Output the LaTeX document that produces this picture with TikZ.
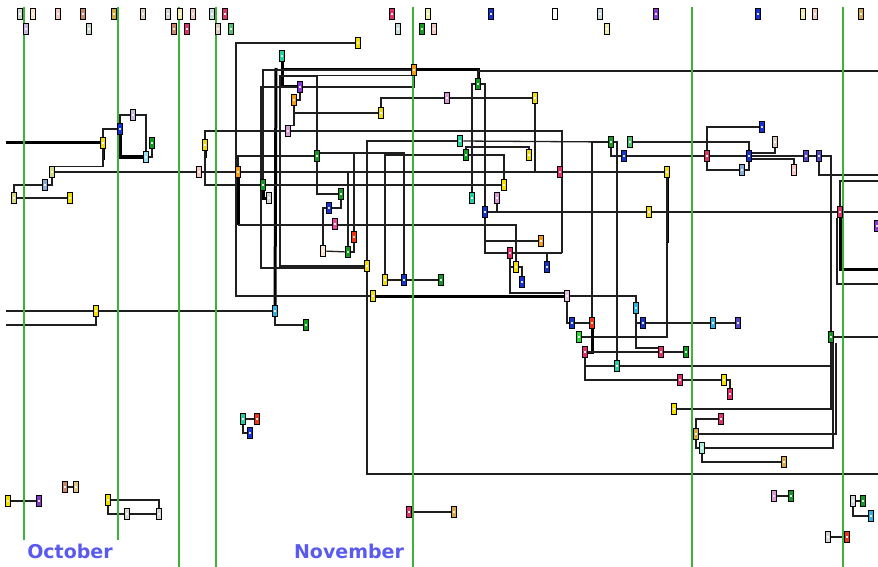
\documentclass[tikz,border=0pt]{standalone}
\usepackage{fontspec}
\newfontfamily\monthfont{DejaVu Sans}
\usetikzlibrary{positioning}
\pgfdeclarelayer{paper}
\pgfdeclarelayer{wires}
\pgfdeclarelayer{guides}
\pgfsetlayers{paper,wires,guides,main}

\definecolor{cyel}{HTML}{F2DC00}
\definecolor{cgrn}{HTML}{109A20}
\definecolor{cbgr}{HTML}{20E030}
\definecolor{cteal}{HTML}{20D0A0}
\definecolor{cblu}{HTML}{1434D0}
\definecolor{corg}{HTML}{F09A10}
\definecolor{cpur}{HTML}{8A36D0}
\definecolor{corch}{HTML}{D898D8}
\definecolor{cmag}{HTML}{F0409A}
\definecolor{cred}{HTML}{F03414}
\definecolor{ccrim}{HTML}{E0306A}
\definecolor{ccyn}{HTML}{28B4E4}
\definecolor{clcy}{HTML}{98DCF0}
\definecolor{cslt}{HTML}{5446C4}
\definecolor{cstb}{HTML}{84AAD8}
\definecolor{csal}{HTML}{F8C4C0}
\definecolor{colv}{HTML}{D4D882}
\definecolor{cltl}{HTML}{A8F0DC}
\definecolor{ctan}{HTML}{D4A848}
\definecolor{cgry}{HTML}{D4D6D4}
\definecolor{cpch}{HTML}{FCE0C8}
\definecolor{crse}{HTML}{F0C8C0}
\definecolor{cbrn}{HTML}{C88868}
\definecolor{cbge}{HTML}{DCCCBC}
\definecolor{clem}{HTML}{EEEEA8}
\definecolor{clav}{HTML}{C8B8E0}
\definecolor{cice}{HTML}{C8DCDC}
\definecolor{csge}{HTML}{C8D8CC}
\definecolor{clgr}{HTML}{50C070}
\definecolor{guidegreen}{HTML}{3CB43C}
\definecolor{monthblue}{HTML}{5A5AF0}

\tikzset{
  tsk/.style={draw=black, line width=1.1pt, minimum width=5.5pt, minimum height=10.5pt, inner sep=0pt,
    path picture={\fill[white,opacity=.85] ([shift={(-0.9pt,-1.4pt)}]path picture bounding box.center) rectangle ([shift={(0.9pt,1.4pt)}]path picture bounding box.center);}},
  wire/.style={line width=1.3pt, draw=black!88},
  fat/.style={line width=3pt, draw=black},
  guide/.style={line width=1.5pt, draw=guidegreen},
  month/.style={font=\monthfont\bfseries\fontsize{19}{19}\selectfont, text=monthblue, inner sep=0pt}
}

\begin{document}
\begin{tikzpicture}[x=1pt,y=-1pt]
\begin{pgfonlayer}{paper}
\fill[white] (0,0) rectangle (878,567);
\end{pgfonlayer}
\useasboundingbox (0,0) rectangle (878,567);

% top rows
\node[tsk, fill=cgry] (t1) at (20,14) {};
\node[tsk, fill=cpch] (t2) at (33,14) {};
\node[tsk, fill=crse] (t3) at (58,14) {};
\node[tsk, fill=cbrn] (t4) at (83,14) {};
\node[tsk, fill=ctan] (t5) at (114,14) {};
\node[tsk, fill=cbge] (t6) at (143,14) {};
\node[tsk, fill=cgry] (t7) at (168,14) {};
\node[tsk, fill=clem] (t8) at (180,14) {};
\node[tsk, fill=crse] (t9) at (193,14) {};
\node[tsk, fill=cice] (t10) at (212,14) {};
\node[tsk, fill=ccrim] (t11) at (225,14) {};
\node[tsk, fill=ccrim] (t12) at (392,14) {};
\node[tsk, fill=clem] (t13) at (428,14) {};
\node[tsk, fill=cblu] (t14) at (491,14) {};
\node[tsk, fill=white] (t15) at (555,14) {};
\node[tsk, fill=cice] (t16) at (600,14) {};
\node[tsk, fill=cpur] (t17) at (656,14) {};
\node[tsk, fill=cblu] (t18) at (758,14) {};
\node[tsk, fill=clem] (t19) at (803,14) {};
\node[tsk, fill=crse] (t20) at (815,14) {};
\node[tsk, fill=ctan] (t21) at (861,14) {};
\node[tsk, fill=clav] (s1) at (26,29) {};
\node[tsk, fill=csge] (s2) at (89,29) {};
\node[tsk, fill=cbrn] (s3) at (174,29) {};
\node[tsk, fill=ccrim] (s4) at (187,29) {};
\node[tsk, fill=cbge] (s5) at (218,29) {};
\node[tsk, fill=clgr] (s6) at (231,29) {};
\node[tsk, fill=cice] (s7) at (398,29) {};
\node[tsk, fill=cgrn] (s8) at (422,29) {};
\node[tsk, fill=crse] (s9) at (434,29) {};
\node[tsk, fill=clem] (s10) at (607,29) {};

% left
\node[tsk, fill=cyel] (yA) at (103,143) {};
\node[tsk, fill=cblu] (bA) at (120,129) {};
\node[tsk, fill=clav] (lvA) at (133,115) {};
\node[tsk, fill=cgrn] (grA) at (152,143) {};
\node[tsk, fill=clcy] (cyA) at (146,157) {};
\node[tsk, fill=colv] (olA) at (52,172) {};
\node[tsk, fill=csal] (pcA) at (199,172) {};
\node[tsk, fill=corg] (orA) at (238,172) {};
\node[tsk, fill=cstb] (lbA) at (45,185) {};
\node[tsk, fill=colv] (ogA) at (14,198) {};
\node[tsk, fill=cyel] (yB) at (70,198) {};
\node[tsk, fill=cyel] (yC) at (96,311) {};
\node[tsk, fill=ccyn] (cyB) at (275,311) {};
\node[tsk, fill=cgrn] (grB) at (306,325) {};
\node[tsk, fill=cyel] (yI) at (205,145) {};

% centre
\node[tsk, fill=cyel] (yD) at (358,43) {};
\node[tsk, fill=cteal] (tlA) at (282,56) {};
\node[tsk, fill=corg] (ogB) at (414,70) {};
\node[tsk, fill=cpur] (puA) at (300,87) {};
\node[tsk, fill=corg] (orB) at (294,100) {};
\node[tsk, fill=corch] (pkB) at (288,131) {};
\node[tsk, fill=cyel] (yF) at (381,113) {};
\node[tsk, fill=cgrn] (grE) at (317,156) {};
\node[tsk, fill=corch] (pkC) at (447,98) {};
\node[tsk, fill=cgrn] (grD) at (478,84) {};
\node[tsk, fill=cyel] (yG) at (535,98) {};
\node[tsk, fill=cteal] (tlB) at (460,141) {};
\node[tsk, fill=cgrn] (grH) at (466,155) {};
\node[tsk, fill=cyel] (yW) at (529,155) {};
\node[tsk, fill=ccrim] (crA) at (560,172) {};
\node[tsk, fill=cyel] (yK) at (504,185) {};
\node[tsk, fill=cteal] (tlC) at (472,198) {};
\node[tsk, fill=corch] (pkD) at (497,198) {};
\node[tsk, fill=cblu] (bC) at (485,212) {};
\node[tsk, fill=corg] (orC) at (541,241) {};
\node[tsk, fill=ccrim] (crB) at (510,253) {};
\node[tsk, fill=cyel] (yN) at (516,267) {};
\node[tsk, fill=cblu] (bD) at (547,267) {};
\node[tsk, fill=cblu] (bE) at (522,282) {};
\node[tsk, fill=corch!60] (pkA) at (567,296) {};
\node[tsk, fill=cgrn] (grC) at (263,185) {};
\node[tsk, fill=cgry] (gyA) at (269,198) {};
\node[tsk, fill=cgrn] (grF) at (341,194) {};
\node[tsk, fill=cblu] (bK) at (329,208) {};
\node[tsk, fill=cmag] (mgA) at (335,224) {};
\node[tsk, fill=cred] (rB) at (354,237) {};
\node[tsk, fill=cpch] (pcB) at (323,251) {};
\node[tsk, fill=cgrn] (grN) at (348,252) {};
\node[tsk, fill=cyel] (yL) at (367,266) {};
\node[tsk, fill=cyel] (yJ) at (385,280) {};
\node[tsk, fill=cblu] (bB) at (404,280) {};
\node[tsk, fill=cgrn] (grG) at (441,280) {};
\node[tsk, fill=cyel] (yE) at (373,296) {};

% right
\node[tsk, fill=cgrn] (grI) at (611,142) {};
\node[tsk, fill=clgr] (grL) at (630,142) {};
\node[tsk, fill=cblu] (bI) at (624,156) {};
\node[tsk, fill=cyel] (yH) at (667,172) {};
\node[tsk, fill=cyel] (yM) at (649,212) {};
\node[tsk, fill=ccrim] (pkE) at (707,156) {};
\node[tsk, fill=cblu] (bH) at (749,156) {};
\node[tsk, fill=cstb] (lbB) at (742,170) {};
\node[tsk, fill=cblu] (bJ) at (762,127) {};
\node[tsk, fill=cbge] (tnA) at (775,142) {};
\node[tsk, fill=csal] (slA) at (794,170) {};
\node[tsk, fill=cslt] (pbB) at (806,156) {};
\node[tsk, fill=cslt] (pbC) at (819,156) {};
\node[tsk, fill=ccrim] (crC) at (840,212) {};
\node[tsk, fill=cpur] (puC) at (877,226) {};
\node[tsk, fill=ccyn] (cyC) at (636,308) {};
\node[tsk, fill=cblu] (bF) at (572,323) {};
\node[tsk, fill=cred] (rA) at (592,323) {};
\node[tsk, fill=cblu] (bG) at (643,323) {};
\node[tsk, fill=ccyn] (cyD) at (713,323) {};
\node[tsk, fill=cslt] (pbA) at (738,323) {};
\node[tsk, fill=cbgr] (grJ) at (579,337) {};
\node[tsk, fill=cgrn] (grM) at (831,337) {};
\node[tsk, fill=ccrim] (crD) at (585,352) {};
\node[tsk, fill=ccrim] (crE) at (661,352) {};
\node[tsk, fill=cgrn] (grK) at (686,352) {};
\node[tsk, fill=cteal] (tlD) at (617,366) {};
\node[tsk, fill=ccrim] (crF) at (680,380) {};
\node[tsk, fill=cyel] (yO) at (724,380) {};
\node[tsk, fill=ccrim] (crG) at (730,394) {};
\node[tsk, fill=cyel] (yP) at (674,409) {};
\node[tsk, fill=ccrim] (crH) at (721,419) {};
\node[tsk, fill=ctan] (tnB) at (696,434) {};
\node[tsk, fill=cltl] (ltA) at (702,448) {};
\node[tsk, fill=ctan] (tnC) at (784,462) {};

% bottom
\node[tsk, fill=cteal] (tlE) at (243,419) {};
\node[tsk, fill=cred] (rC) at (257,419) {};
\node[tsk, fill=cblu] (bL) at (250,433) {};
\node[tsk, fill=ccrim] (crI) at (409,512) {};
\node[tsk, fill=ctan] (tnF) at (454,512) {};
\node[tsk, fill=corch] (lvB) at (774,496) {};
\node[tsk, fill=cgrn] (grO) at (791,496) {};
\node[tsk, fill=cgry] (gyD) at (853,501) {};
\node[tsk, fill=cgrn] (grP) at (863,501) {};
\node[tsk, fill=ccyn] (cyE) at (871,516) {};
\node[tsk, fill=cgry] (gyE) at (828,537) {};
\node[tsk, fill=cred] (rD) at (847,537) {};
\node[tsk, fill=cyel] (yQ) at (8,501) {};
\node[tsk, fill=cpur] (puB) at (39,501) {};
\node[tsk, fill=cyel] (yR) at (108,500) {};
\node[tsk, fill=cgry] (gyB) at (127,514) {};
\node[tsk, fill=cgry] (gyC) at (159,514) {};
\node[tsk, fill=cbrn] (tnD) at (65,487) {};
\node[tsk, fill=ctan!70] (tnE) at (76,487) {};

\node[month] (oct) at (70,551) {October};
\node[month] (nov) at (349,551) {November};

\coordinate (eL143) at (6,143);
\coordinate (eL311) at (6,311);
\coordinate (eL325) at (6,325);
\coordinate (eR71) at (878,71);
\coordinate (eR175) at (878,175);
\coordinate (eR181) at (878,181);
\coordinate (eR212) at (878,212);
\coordinate (eR269) at (878,269);
\coordinate (eR284) at (878,284);
\coordinate (eR337) at (878,337);
\coordinate (eR474) at (878,474);

\begin{pgfonlayer}{guides}
\foreach \gx/\gy in {24/540,118/540,179/567,216/567,413/567,692/567,843/567}
  \draw[guide] (\gx,7) -- (\gx,\gy);
\end{pgfonlayer}

\begin{pgfonlayer}{wires}
\begin{scope}[wire]
\draw[fat] (eL143) -- (yA);
\draw (yA.north) |- (bA.west);
\draw (bA.north) |- (lvA.west);
\draw (lvA.east) -| (cyA.north);
\draw[fat] (bA.south) |- (cyA.west);
\draw (cyA.east) -| (grA.south);
\draw[fat] (yA.south) -- (103,160);
\draw (yA.south) |- (olA.north);
\draw (olA) -- (pcA) -- (orA) -- (crA);
\draw (orA.east) -| (grN.north);
\draw (orA.north) |- (grE.west);
\draw (olA.south) |- (lbA.east);
\draw (ogA.north) |- (lbA.west);
\draw (ogA) -- (yB);
\draw (eL311) -- (yC);
\draw (yC.south) |- (eL325);
\draw (yC) -- (cyB);
\draw (cyB.south) |- (grB.west);
\draw[fat] (cyB.north) -- (276,68);

\draw (yD.west) -| (236,296) -- (yE.west);
\draw[fat] (yE) -- (pkA);
\draw[fat] (tlA.south) |- (ogB.west);
\draw[fat] (ogB.east) -| (grD.north);
\draw (grD.north) |- (eR71);
\draw[fat] (tlA.south) |- (puA.west);
\draw (ogB.south) |- (puA.east);
\draw (puA.west) -| (261,268) -- ([yshift=-2pt]yL.west);
\draw (yL.west) -| (280,76) -| (grE.north);
\draw (puA.south) |- (orB.east);
\draw (orB.south) |- (yF.west);
\draw (orB.south) |- (pkB.north);
\draw (yF.north) |- (pkC.west);
\draw (pkC) -- (yG);
\draw (yG.south) |- (crA.west);
\draw (crA) -- (yH);
\draw[fat] (yH.south) -- (667,243);
\draw (yH.south) |- (grJ.east);
\draw (pkB.west) -| (yI.north);
\draw (pkB.east) -| (562,253);
\draw[line width=2.2pt] (562,253) -- (crB.east);
\draw[fat] (yI.south) -- (205,158);
\draw (yI.south) |- (grC.west);
\draw (grC) -- (yK);
\draw[fat] (grC.south) |- (gyA.west);
\draw (ogB.west) -| (grC.north);
\draw (grE.north) |- (ogB.south);
\draw (grE.south) |- (grF.west);
\draw ([yshift=3pt]grE.east) -| (bB.north);
\draw (rB.north) -- (354,153);
\draw (yJ) -- (bB) -- (grG);
\draw[line width=2pt] (yL.north) |- (tlB.west);
\draw (tlB) -- (grI);
\draw (yJ.north) |- (grH.west);
\draw (grH.east) -| (yK.north);
\draw (yW.north) |- (466,147) -- (grH.north);
\draw (grD.west) -| (tlC.north);
\draw (grD.east) -| (bC.north);
\draw (pkD.south) |- (bC.east);
\draw (bC) -- (yM) -- (crC) -- (eR212);
\draw (bC.south) |- (orC.west);
\draw (bC.south) |- (crB.west);
\draw (crB.east) -| (bD.north);
\draw (crB.south) |- (yN.west);
\draw (yN.east) -| (bE.north);
\draw (crB.south) |- ([yshift=3pt]pkA.west);
\draw[fat] (orA.south) -- (238,225);
\draw (238,225) -| (yN.north);
\draw (grF.south) |- (bK.east);
\draw (bK.west) -| (pcB.north);
\draw (pcB) -- (grN);
\draw (rB.south) |- (grN.east);

\draw (pkA.east) -| (rA.north);
\draw (pkA.east) -| (cyC.north);
\draw (pkA.south) |- (bF.west);
\draw (bF) -- (rA);
\draw[fat] (rA.south) |- (crD.east);
\draw (crD) -- (crE) -- (grK);
\draw (crD.south) |- (tlD.west);
\draw (tlD.east) -| (grM.south);
\draw (crD.south) |- (crF.west);
\draw (crF) -- (yO);
\draw (yO.east) -| (crG.north);
\draw (cyC.south) |- (bG.west);
\draw (bG) -- (cyD) -- (pbA);
\draw (cyC.south) |- ([yshift=4pt]crE.west);
\draw (grI.west) -| (rA.north);
\draw (grI.east) -| (tlD.north);
\draw (grL.east) -| (bH.north);
\draw (grI.south) |- (bI.west);
\draw (bI) -- (pkE) -- (bH) -- (pbB) -- (pbC);
\draw (pkE.north) |- (bJ.west);
\draw (pkE.south) |- (lbB.west);
\draw (lbB.east) -| (bH.south);
\draw ([yshift=3pt]bH.east) -| (tnA.south);
\draw ([yshift=-3pt]bH.east) -| (slA.north);
\draw (pbC.east) -| (grM.north);
\draw (pbC.south) |- (eR175);
\draw (eR181) -| (crC.north);
\draw[fat] (crC.south) |- (eR269);
\draw ([xshift=-3pt]crC.south) |- (eR284);
\draw (grM) -- (eR337);
\draw[fat] (grM.south) -- (831,408);
\draw (grM.south) |- (yP.east);
\draw ([xshift=5pt]grM.south) |- (tnB.east);
\draw ([xshift=2pt]grM.south) |- (ltA.east);
\draw (tnB.north) |- (crH.west);
\draw (tnB.south) |- (ltA.west);
\draw (ltA.south) |- (tnC.west);
\draw (yL.south) |- (eR474);

\draw (tlE) -- (rC);
\draw (tlE.south) |- (bL.west);
\draw (crI) -- (tnF);
\draw (lvB) -- (grO);
\draw (gyD) -- (grP);
\draw (gyD.south) |- (cyE.west);
\draw (gyE) -- (rD);
\draw (yQ) -- (puB);
\draw (tnD) -- (tnE);
\draw (yR.east) -| (gyC.north);
\draw (yR.south) |- (gyB.west);
\draw (gyB) -- (gyC);
\end{scope}
\end{pgfonlayer}
\end{tikzpicture}
\end{document}
